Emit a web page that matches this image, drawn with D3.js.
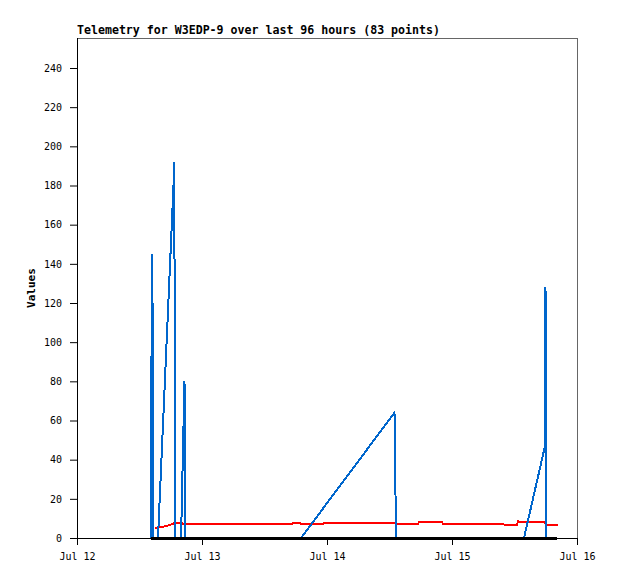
<!DOCTYPE html>
<html>
<head>
<meta charset="utf-8">
<script src="https://cdn.jsdelivr.net/npm/d3@7"></script>
<style>
  html, body { margin: 0; padding: 0; background: #fff; }
  svg { display: block; }
  text { font-family: "DejaVu Sans Mono", "Liberation Mono", monospace; }
</style>
</head>
<body>
<svg id="chart" width="618" height="579"></svg>
<script>
// ---- Data (hours since Jul 12 00:00) ----
const titleText = "Telemetry for W3EDP-9 over last 96 hours (83 points)";
const yLabel = "Values";
const xTickLabels = ["Jul 12", "Jul 13", "Jul 14", "Jul 15", "Jul 16"];
const yTicks = [0, 20, 40, 60, 80, 100, 120, 140, 160, 180, 200, 220, 240];

const blueHours = [14.21, 14.27, 14.46, 14.59, 14.69, 15.55, 18.53, 18.66, 18.74, 18.80, 18.91,
                   19.97, 20.06, 20.64, 20.83, 43.01, 60.96, 61.11, 61.25, 85.82, 89.86, 89.95, 90.14, 92.16];
const blueValues = [0, 80, 145, 56, 0, 0, 180, 192, 128, 96, 0,
                    0, 10, 80, 0, 0, 64, 32, 0, 0, 47, 128, 0, 0];

const redHours = [14.98, 16.90, 18.24, 18.82, 20.16, 20.35, 41.28, 41.47, 42.82, 43.01, 47.23, 47.42,
                  56.45, 56.64, 61.06, 61.25, 65.47, 65.66, 70.08, 70.27, 84.48, 84.67, 85.06, 89.86, 90.05, 92.26];
const redValues = [5, 6, 7, 7.8, 7.8, 7, 7, 7.8, 7.8, 7, 7, 7.5,
                   7.5, 7.8, 7.8, 7, 7, 8, 8, 7.3, 6.8, 8.5, 8, 8, 6.8, 6.8];

const blackHours = [14.21, 92.16];
const blackValues = [0, 0];

// ---- Layout ----
const svg = d3.select("#chart");
const mLeft = 77, mRight = 577, mTop = 38, mBottom = 538;
const t0 = new Date(2023, 6, 12, 0, 0, 0);
const toDate = h => new Date(t0.getTime() + h * 3600 * 1000);

const x = d3.scaleTime().domain([t0, toDate(96)]).range([mLeft, mRight]);
const y = d3.scaleLinear().domain([0, 240]).range([mBottom, 68]);

// frame (top & right gray)
svg.append("line").attr("x1", mLeft).attr("x2", mRight).attr("y1", mTop + 0.5).attr("y2", mTop + 0.5)
  .attr("stroke", "#666").attr("stroke-width", 1);
svg.append("line").attr("x1", mRight + 0.5).attr("x2", mRight + 0.5).attr("y1", mTop).attr("y2", mBottom)
  .attr("stroke", "#666").attr("stroke-width", 1);

// series
const line = d3.line().x(d => x(toDate(d[0]))).y(d => y(d[1]));
function drawSeries(hours, values, color, width) {
  svg.append("path")
    .datum(hours.map((h, i) => [h, values[i]]))
    .attr("fill", "none")
    .attr("stroke", color)
    .attr("stroke-width", width)
    .attr("shape-rendering", "crispEdges")
    .attr("d", line);
}
drawSeries(redHours, redValues, "#ff0000", 2);
drawSeries(blueHours, blueValues, "#0066cc", 2);

// axes
const xAxis = d3.axisBottom(x)
  .tickValues(xTickLabels.map((_, i) => toDate(i * 24)))
  .tickFormat((d, i) => xTickLabels[i])
  .tickSizeOuter(0).tickSize(7).tickPadding(8);
const gx = svg.append("g").attr("transform", `translate(0,${mBottom})`).call(xAxis);
gx.select(".domain").attr("stroke", "#000");
gx.selectAll("text").attr("font-size", "10px").attr("fill", "#000")
  .attr("font-family", "'DejaVu Sans Mono', monospace");

const yAxis = d3.axisLeft(y).tickValues(yTicks).tickFormat(d3.format("d"))
  .tickSizeOuter(0).tickSize(7).tickPadding(8);
const gy = svg.append("g").attr("transform", `translate(${mLeft},0)`).call(yAxis);
gy.select(".domain").remove();
gy.append("line").attr("x1", 0.5).attr("x2", 0.5).attr("y1", mTop).attr("y2", mBottom).attr("stroke", "#000");
gy.selectAll("text").attr("font-size", "10px").attr("fill", "#000")
  .attr("font-family", "'DejaVu Sans Mono', monospace");

// black series on top
drawSeries(blackHours, blackValues, "#000000", 3);

// title
svg.append("text").attr("x", mLeft).attr("y", 34)
  .attr("font-size", "11.6px").attr("font-weight", "bold").attr("fill", "#000")
  .text(titleText);

// y label
svg.append("text")
  .attr("transform", `translate(35,${(mTop + mBottom) / 2}) rotate(-90)`)
  .attr("text-anchor", "middle")
  .attr("font-size", "11px").attr("font-weight", "bold").attr("fill", "#000")
  .text(yLabel);
</script>
</body>
</html>
